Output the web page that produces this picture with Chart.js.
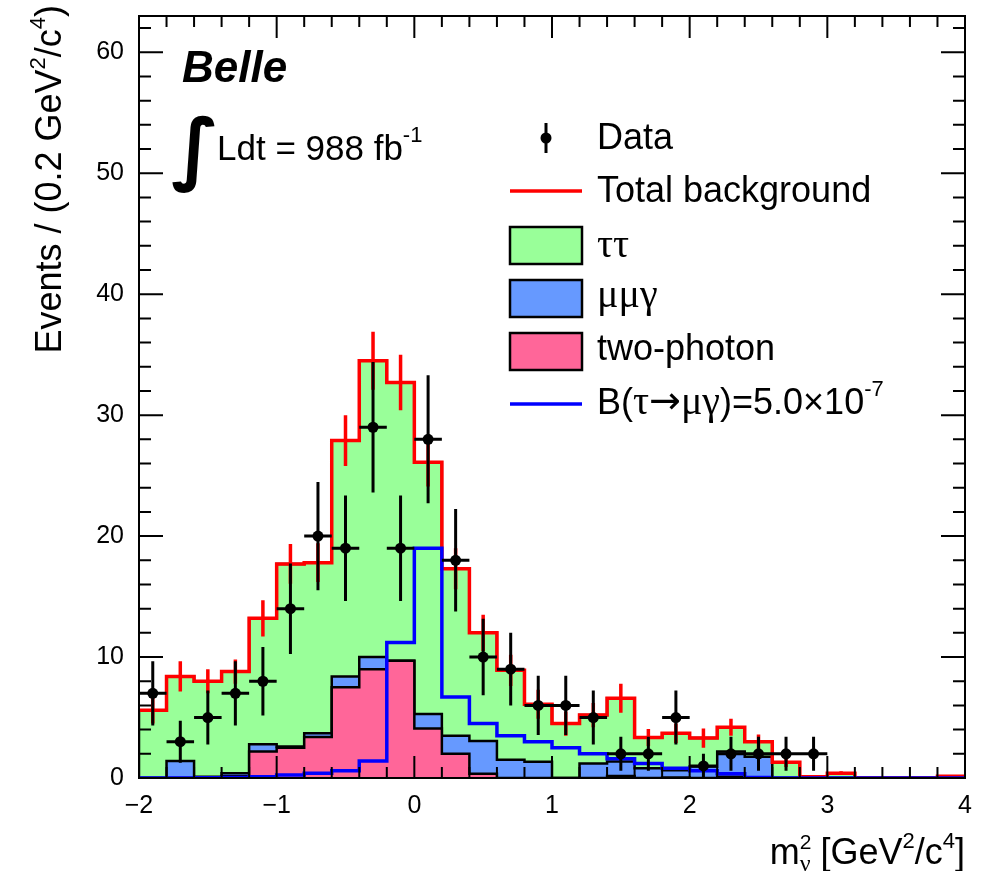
<!DOCTYPE html>
<html>
<head>
<meta charset="utf-8">
<script src="https://cdn.jsdelivr.net/npm/chart.js@4.4.1/dist/chart.umd.min.js"></script>
<style>
    body { margin: 0; background: #fff; }
    canvas { display: block; }
</style>
</head>
<body>
<canvas id="mnu2" width="991" height="871"></canvas>
<script>
// m_nu^2 bins, 0.2 GeV^2/c^4 wide, from -2 to 4
var binCenters = [-1.9, -1.7, -1.5, -1.3, -1.1, -0.9, -0.7, -0.5, -0.3, -0.1,
                  0.1, 0.3, 0.5, 0.7, 0.9, 1.1, 1.3, 1.5, 1.7, 1.9,
                  2.1, 2.3, 2.5, 2.7, 2.9, 3.1, 3.3, 3.5, 3.7, 3.9];
var binWidth = 0.2;

// stacked backgrounds (bottom to top)
var twoPhoton = [0, 0, 0.05, 0.15, 2.2, 2.5, 3.4, 7.5, 9.0, 9.7,
                 4.1, 2.0, 0.35, 0, 0, 0, 0, 0.17, 0, 0.05,
                 0, 0.1, 0, 0, 0, 0, 0, 0, 0, 0];
var mumug = [0, 1.4, 0.05, 0.25, 0.6, 0.1, 0.3, 0.9, 1.0, 0,
             1.2, 1.5, 2.7, 1.5, 1.35, 0, 1.2, 1.2, 0.8, 0.6,
             0.95, 2.1, 1.75, 0, 0, 0, 0, 0, 0, 0];
var tautau = [5.6, 7.0, 7.9, 8.4, 10.4, 15.1, 14.1, 19.5, 24.5, 23.0,
              20.8, 13.8, 8.95, 7.4, 4.75, 4.5, 4.0, 5.23, 2.55, 3.05,
              2.35, 2.0, 1.25, 1.3, 0.1, 0.4, 0, 0, 0, 0.15];
var bgError = [1.1, 1.25, 1.0, 1.0, 1.5, 1.65, 1.6, 2.1, 2.4, 2.3,
               2.0, 1.7, 1.5, 1.3, 1.2, 1.0, 1.0, 1.2, 0.7, 0.8,
               0.8, 0.7, 0.6, 0.4, 0.1, 0.15, 0, 0, 0, 0.1];

// signal B(tau->mu gamma) = 5.0e-7
var signal = [0, 0, 0.02, 0.05, 0.1, 0.25, 0.4, 0.6, 1.4, 11.2,
              19.0, 6.7, 4.5, 3.5, 3.0, 2.5, 2.0, 1.6, 1.2, 0.8,
              0.6, 0.35, 0.05, 0, 0, 0, 0, 0, 0, 0];

// data
var dataCounts = [7, 3, 5, 7, 8, 14, 20, 19, 29, 19,
                  28, 18, 10, 9, 6, 6, 5, 2, 2, 5,
                  1, 2, 2, 2, 2, 0, 0, 0, 0, 0];
var dataErrors = [2.65, 1.73, 2.24, 2.65, 2.83, 3.74, 4.47, 4.36, 5.39, 4.36,
                  5.29, 4.24, 3.16, 3.0, 2.45, 2.45, 2.24, 1.41, 1.41, 2.24,
                  1.0, 1.41, 1.41, 1.41, 1.41, 0, 0, 0, 0, 0];

var xMin = -2, xMax = 4, yMin = 0, yMax = 63;
var xTickStep = 1, yTickStep = 10;

var SANS = '"Liberation Sans", Arial, Helvetica, sans-serif';
var SERIF = '"Liberation Serif", "Times New Roman", serif';

// cumulative stack tops
var pinkTop = [], blueTop = [], totalBg = [];
for (var i = 0; i < binCenters.length; i++) {
    pinkTop.push(twoPhoton[i]);
    blueTop.push(twoPhoton[i] + mumug[i]);
    totalBg.push(twoPhoton[i] + mumug[i] + tautau[i]);
}

// histogram outline as step points (left edges + last right edge)
function histPoints(values, closed) {
    var pts = [];
    var first = binCenters[0] - binWidth / 2;
    var last = binCenters[binCenters.length - 1] + binWidth / 2;
    if (closed) pts.push({ x: first, y: 0 });
    for (var i = 0; i < values.length; i++) {
        pts.push({ x: binCenters[i] - binWidth / 2, y: values[i] });
    }
    pts.push({ x: last, y: values[values.length - 1] });
    if (closed) pts.push({ x: last, y: 0 });
    return pts;
}

function vBars(centers, values, errs) {
    var pts = [];
    for (var i = 0; i < centers.length; i++) {
        if (!errs[i]) continue;
        pts.push({ x: centers[i], y: values[i] - errs[i] });
        pts.push({ x: centers[i], y: values[i] + errs[i] });
        pts.push({ x: centers[i], y: null });
    }
    return pts;
}

var dataPts = [], dataH = [], dataC = [], dataV = [], dataE = [];
for (var i = 0; i < binCenters.length; i++) {
    if (dataCounts[i] <= 0) continue;
    dataPts.push({ x: binCenters[i], y: dataCounts[i] });
    dataH.push({ x: binCenters[i] - binWidth / 2, y: dataCounts[i] });
    dataH.push({ x: binCenters[i] + binWidth / 2, y: dataCounts[i] });
    dataH.push({ x: binCenters[i] + binWidth / 2, y: null });
    dataC.push(binCenters[i]); dataV.push(dataCounts[i]); dataE.push(dataErrors[i]);
}

function histSet(pts, fillColor, lineColor, width, order) {
    return {
        data: pts,
        stepped: true,
        fill: fillColor ? 'origin' : false,
        backgroundColor: fillColor || 'transparent',
        borderColor: lineColor,
        borderWidth: width,
        pointRadius: 0,
        order: order
    };
}

function barSet(pts, color, width, order) {
    return {
        data: pts,
        fill: false,
        spanGaps: false,
        borderColor: color,
        borderWidth: width,
        borderCapStyle: 'butt',
        pointRadius: 0,
        order: order
    };
}

function drawParts(ctx, parts, x, y) {
    parts.forEach(function (p) {
        ctx.font = p.font;
        ctx.fillText(p.t, x, y + (p.dy || 0));
        if (!p.noAdvance) x += ctx.measureText(p.t).width;
    });
    return x;
}

function partsWidth(ctx, parts) {
    var w = 0;
    parts.forEach(function (p) {
        ctx.font = p.font;
        if (!p.noAdvance) w += ctx.measureText(p.t).width;
    });
    return w;
}

var decor = {
    id: 'decor',
    afterDraw: function (chart) {
        var ctx = chart.ctx;
        var a = chart.chartArea;
        var xs = chart.scales.x, ys = chart.scales.y;
        ctx.save();
        ctx.strokeStyle = '#000';
        ctx.fillStyle = '#000';
        ctx.lineWidth = 2;

        // inward ticks, ROOT style
        ctx.beginPath();
        for (var k = 0; k <= 30; k++) {
            var xv = xMin + k * binWidth;
            var px = xs.getPixelForValue(xv);
            var len = (k % 5 === 0) ? 22 : 11;
            ctx.moveTo(px, a.bottom); ctx.lineTo(px, a.bottom - len);
            ctx.moveTo(px, a.top); ctx.lineTo(px, a.top + len);
        }
        for (var k = 0; k * 2 <= yMax; k++) {
            var py = ys.getPixelForValue(k * 2);
            var len = (k % 5 === 0) ? 24 : 12;
            ctx.moveTo(a.left, py); ctx.lineTo(a.left + len, py);
            ctx.moveTo(a.right, py); ctx.lineTo(a.right - len, py);
        }
        ctx.stroke();
        ctx.strokeRect(a.left, a.top, a.right - a.left, a.bottom - a.top);

        // Belle label
        ctx.textBaseline = 'alphabetic';
        ctx.textAlign = 'left';
        ctx.font = 'italic bold 44px ' + SANS;
        ctx.fillText('Belle', 182, 82);

        // integral sign, scaled to fit its box
        ctx.save();
        ctx.font = 'bold 100px "DejaVu Sans"';
        var m = ctx.measureText('\u222B');
        var gh = m.actualBoundingBoxAscent + m.actualBoundingBoxDescent;
        var gw = m.actualBoundingBoxLeft + m.actualBoundingBoxRight;
        var sc = 78 / gh;
        ctx.translate(172, 115);
        ctx.scale(Math.max(sc, 40 / gw), sc);
        ctx.fillText('\u222B', m.actualBoundingBoxLeft, m.actualBoundingBoxAscent);
        ctx.restore();
        drawParts(ctx, [
            { t: 'Ldt = 988 fb', font: '35px ' + SANS },
            { t: '-1', font: '22px ' + SANS, dy: -18 }
        ], 217, 160);

        // legend
        var lx0 = 510, lx1 = 582, tx = 597;
        var lf = '36px ' + SANS;
        ctx.lineWidth = 3;
        ctx.beginPath();
        ctx.moveTo(546, 123); ctx.lineTo(546, 153); ctx.stroke();
        ctx.beginPath(); ctx.arc(546, 138, 5.5, 0, Math.PI * 2); ctx.fill();
        ctx.font = lf;
        ctx.fillText('Data', tx, 149);

        ctx.strokeStyle = '#ff0000'; ctx.lineWidth = 3.5;
        ctx.beginPath(); ctx.moveTo(lx0, 191); ctx.lineTo(lx1, 191); ctx.stroke();
        ctx.fillText('Total background', tx, 202);

        var boxes = [
            { top: 227, fill: '#99ff99', parts: [{ t: '\u03C4\u03C4', font: '40px ' + SERIF }], base: 257 },
            { top: 280, fill: '#6699ff', parts: [{ t: '\u03BC\u03BC\u03B3', font: '40px ' + SERIF }], base: 307 },
            { top: 333, fill: '#ff6699', parts: [{ t: 'two-photon', font: lf }], base: 360 }
        ];
        boxes.forEach(function (b) {
            ctx.fillStyle = b.fill;
            ctx.fillRect(lx0, b.top, lx1 - lx0, 37);
            ctx.strokeStyle = '#000'; ctx.lineWidth = 2.5;
            ctx.strokeRect(lx0, b.top, lx1 - lx0, 37);
            ctx.fillStyle = '#000';
            drawParts(ctx, b.parts, tx, b.base);
        });

        ctx.strokeStyle = '#0000ff'; ctx.lineWidth = 3.5;
        ctx.beginPath(); ctx.moveTo(lx0, 404); ctx.lineTo(lx1, 404); ctx.stroke();
        drawParts(ctx, [
            { t: 'B(', font: lf },
            { t: '\u03C4', font: '40px ' + SERIF },
            { t: '\u2192', font: '38px "DejaVu Sans"', dy: -1 },
            { t: '\u03BC\u03B3', font: '40px ' + SERIF },
            { t: ')=5.0\u00D710', font: lf },
            { t: '-7', font: '22px ' + SANS, dy: -18 }
        ], tx, 414);

        // y axis title, rotated, flush with the top
        var yParts = [
            { t: 'Events / (0.2 GeV', font: '36px ' + SANS },
            { t: '2', font: '22px ' + SANS, dy: -16 },
            { t: '/c', font: '36px ' + SANS },
            { t: '4', font: '22px ' + SANS, dy: -16 },
            { t: ')', font: '36px ' + SANS }
        ];
        var yw = partsWidth(ctx, yParts);
        ctx.save();
        ctx.translate(61, 5 + yw);
        ctx.rotate(-Math.PI / 2);
        drawParts(ctx, yParts, 0, 0);
        ctx.restore();

        // x axis title, flush right
        var xParts = [
            { t: 'm', font: '36px ' + SANS },
            { t: '2', font: '21px ' + SANS, dy: -15, noAdvance: true },
            { t: '\u03BD', font: '24px ' + SERIF, dy: 7 },
            { t: ' [GeV', font: '36px ' + SANS },
            { t: '2', font: '22px ' + SANS, dy: -16 },
            { t: '/c', font: '36px ' + SANS },
            { t: '4', font: '22px ' + SANS, dy: -16 },
            { t: ']', font: '36px ' + SANS }
        ];
        var xw = partsWidth(ctx, xParts);
        drawParts(ctx, xParts, a.right - xw, 864);

        ctx.restore();
    }
};

var ctx = document.getElementById('mnu2').getContext('2d');
var chart = new Chart(ctx, {
    type: 'line',
    data: {
        datasets: [
            histSet(histPoints(totalBg, true), '#99ff99', '#000000', 2.5, 9),
            histSet(histPoints(blueTop, true), '#6699ff', '#000000', 2.5, 8),
            histSet(histPoints(pinkTop, true), '#ff6699', '#000000', 2.5, 7),
            barSet(vBars(binCenters, totalBg, bgError), '#ff0000', 3.5, 6),
            histSet(histPoints(totalBg, false), null, '#ff0000', 3.5, 5),
            histSet(histPoints(signal, false), null, '#0000ff', 3.5, 4),
            barSet(vBars(dataC, dataV, dataE), '#000000', 3, 3),
            barSet(dataH, '#000000', 3, 2),
            {
                data: dataPts,
                showLine: false,
                pointRadius: 5.5,
                pointBackgroundColor: '#000000',
                pointBorderWidth: 0,
                order: 1
            }
        ]
    },
    options: {
        responsive: false,
        animation: false,
        events: [],
        layout: { padding: { left: 0, right: 26, top: 16, bottom: 0 } },
        plugins: {
            legend: { display: false },
            tooltip: { enabled: false }
        },
        scales: {
            x: {
                type: 'linear',
                min: xMin,
                max: xMax,
                grid: { display: false },
                border: { display: false },
                ticks: {
                    stepSize: xTickStep,
                    padding: 5,
                    color: '#000',
                    maxRotation: 0,
                    font: { family: SANS, size: 25 },
                    callback: function (v) { return String(v).replace('-', '\u2212'); }
                },
                afterFit: function (s) {
                    s.height = 93;
                    s.paddingLeft = 0; s.paddingRight = 0;
                }
            },
            y: {
                type: 'linear',
                min: yMin,
                max: yMax,
                grid: { display: false },
                border: { display: false },
                ticks: {
                    stepSize: yTickStep,
                    padding: 7,
                    color: '#000',
                    font: { family: SANS, size: 25 }
                },
                afterBuildTicks: function (s) {
                    s.ticks = s.ticks.filter(function (t) { return t.value % yTickStep === 0; });
                },
                afterFit: function (s) {
                    s.width = 139;
                    s.paddingTop = 0; s.paddingBottom = 0;
                }
            }
        }
    },
    plugins: [decor]
});
</script>
</body>
</html>
